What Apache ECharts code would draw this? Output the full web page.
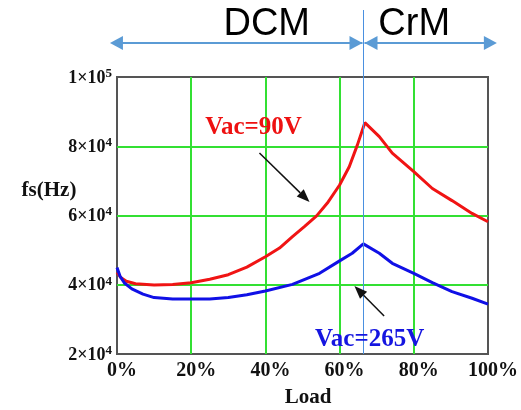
<!DOCTYPE html>
<html>
<head>
<meta charset="utf-8">
<script src="https://cdn.jsdelivr.net/npm/echarts@6/dist/echarts.min.js"></script>
<style>
html,body{margin:0;padding:0;background:#fff;}
#c{width:521px;height:410px;}
</style>
</head>
<body>
<div id="c"></div>
<script>
// Load (%) and switching frequency (Hz)
var xTicks = [0, 20, 40, 60, 80, 100];
var yTicks = [20000, 40000, 60000, 80000, 100000];
var redLoad = [0, 1, 2.5, 5, 10, 15, 20, 25, 30, 35, 40, 43.8, 47.3, 50.5, 53.8, 56.7, 60, 62.6, 64.8, 66.8, 70.7, 74.2, 80, 85, 90.3, 95.7, 100];
var redFs   = [43600, 42100, 41000, 40300, 39900, 40100, 40600, 41600, 42900, 45100, 48100, 50600, 53900, 56800, 59900, 63600, 68800, 74100, 80400, 86800, 82800, 78000, 72700, 67800, 64300, 60600, 58200];
var blueLoad = [0, 0.8, 2, 4, 7, 10, 15, 20, 25, 30, 35, 40, 47.3, 54.6, 60, 63.4, 66.4, 70.7, 74.2, 80, 85, 90.3, 95.7, 100];
var blueFs   = [45000, 42500, 40500, 38800, 37300, 36300, 35900, 35900, 35900, 36300, 37100, 38200, 40100, 43300, 46900, 49100, 51800, 49100, 46200, 43300, 40600, 38000, 36100, 34400];
var boundaryLoad = 66.4;
var redName = 'Vac=90V';
var blueName = 'Vac=265V';

var chart = echarts.init(document.getElementById('c'), null, {renderer: 'canvas'});
var serif = 'Liberation Serif';

function pairs(xs, ys) { return xs.map(function (x, i) { return [x, ys[i]]; }); }

chart.setOption({
  animation: false,
  grid: {left: 117, right: 32, top: 77, bottom: 56, show: true, borderColor: '#555', borderWidth: 2, backgroundColor: 'transparent'},
  xAxis: {
    type: 'value', min: xTicks[0], max: xTicks[xTicks.length - 1], interval: 20,
    axisLine: {show: false}, axisTick: {show: false},
    splitLine: {show: true, showMinLine: false, showMaxLine: false, lineStyle: {color: '#33e033', width: 2}},
    axisLabel: {formatter: '{value}%', fontFamily: serif, fontWeight: 'bold', fontSize: 20, color: '#111', margin: 7, padding: [0, 0, 0, 10]}
  },
  yAxis: {
    type: 'value', min: yTicks[0], max: yTicks[yTicks.length - 1], interval: 20000,
    axisLine: {show: false}, axisTick: {show: false},
    splitLine: {show: true, showMinLine: false, showMaxLine: false, lineStyle: {color: '#33e033', width: 2}},
    axisLabel: {
      margin: 5,
      formatter: function (v) {
        var e = Math.floor(Math.log10(v) + 1e-9);
        var m = Math.round(v / Math.pow(10, e));
        return '{b|' + m + '×10}{s|' + e + '}';
      },
      rich: {
        b: {fontFamily: serif, fontWeight: 'bold', fontSize: 18, color: '#111', lineHeight: 20, verticalAlign: 'bottom'},
        s: {fontFamily: serif, fontWeight: 'bold', fontSize: 13, color: '#111', lineHeight: 20, verticalAlign: 'top'}
      }
    }
  },
  series: [
    {name: redName, type: 'line', data: pairs(redLoad, redFs), showSymbol: false, lineStyle: {color: '#f01414', width: 3}, z: 3},
    {name: blueName, type: 'line', data: pairs(blueLoad, blueFs), showSymbol: false, lineStyle: {color: '#1010e6', width: 3}, z: 3}
  ]
});

function px(x, y) { return chart.convertToPixel({xAxisIndex: 0, yAxisIndex: 0}, [x, y]); }

function arrow(x1, y1, x2, y2, color, w, headLen, headW, z) {
  var dx = x2 - x1, dy = y2 - y1, L = Math.sqrt(dx * dx + dy * dy);
  var ux = dx / L, uy = dy / L;
  var bx = x2 - ux * headLen, by = y2 - uy * headLen;
  var nx = -uy * headW / 2, ny = ux * headW / 2;
  return [
    {type: 'line', z: z, shape: {x1: x1, y1: y1, x2: bx, y2: by}, style: {stroke: color, lineWidth: w}},
    {type: 'polygon', z: z, shape: {points: [[x2, y2], [bx + nx, by + ny], [bx - nx, by - ny]]}, style: {fill: color}}
  ];
}

var bx = Math.round(px(boundaryLoad, 20000)[0]) + 0.5;
var bottomY = px(boundaryLoad, 20000)[1];
var left0 = px(-1.9, 20000)[0];
var right0 = px(102.4, 20000)[0];
var lineBlue = '#5b9bd5';
var topY = 43;

var g = [];
g.push({type: 'line', z: 10, shape: {x1: bx, y1: 10, x2: bx, y2: bottomY}, style: {stroke: '#4a90e0', lineWidth: 1}});
g = g.concat(arrow(left0 + 10, topY, bx - 1, topY, lineBlue, 2, 13, 14, 10));
g = g.concat(arrow(bx - 1, topY, left0, topY, lineBlue, 2, 13, 14, 10));
g = g.concat(arrow(right0 - 10, topY, bx + 1, topY, lineBlue, 2, 13, 14, 10));
g = g.concat(arrow(bx + 1, topY, right0, topY, lineBlue, 2, 13, 14, 10));
g.push({type: 'text', z: 10, x: (left0 + bx) / 2 + 30, y: 25, style: {text: 'DCM', font: '38px "Liberation Sans"', fill: '#000', textAlign: 'center', textVerticalAlign: 'middle'}});
g.push({type: 'text', z: 10, x: (bx + right0) / 2 - 16, y: 25, style: {text: 'CrM', font: '38px "Liberation Sans"', fill: '#000', textAlign: 'center', textVerticalAlign: 'middle'}});

var rt = px(36.8, 85300);
g.push({type: 'text', z: 10, x: rt[0], y: rt[1], style: {text: redName, font: 'bold 25px "Liberation Serif"', fill: '#ee1111', textAlign: 'center', textVerticalAlign: 'middle'}});
var ra = px(38.4, 78050), rb = px(51.9, 63900);
g = g.concat(arrow(ra[0], ra[1], rb[0], rb[1], '#111', 1.5, 13, 10, 10));

var bt = px(68.1, 24200);
g.push({type: 'text', z: 10, x: bt[0], y: bt[1], style: {text: blueName, font: 'bold 25px "Liberation Serif"', fill: '#1515e0', textAlign: 'center', textVerticalAlign: 'middle'}});
var ba = px(72.0, 30980), bb = px(64.0, 39640);
g = g.concat(arrow(ba[0], ba[1], bb[0], bb[1], '#111', 1.5, 13, 10, 10));

g.push({type: 'text', z: 10, x: 49, y: 191, style: {text: 'fs(Hz)', font: 'bold 21px "Liberation Serif"', fill: '#111', textAlign: 'center', textVerticalAlign: 'middle'}});
g.push({type: 'text', z: 10, x: px(51.5, 20000)[0], y: 398, style: {text: 'Load', font: 'bold 21px "Liberation Serif"', fill: '#111', textAlign: 'center', textVerticalAlign: 'middle'}});

chart.setOption({graphic: {elements: g}});
</script>
</body>
</html>
